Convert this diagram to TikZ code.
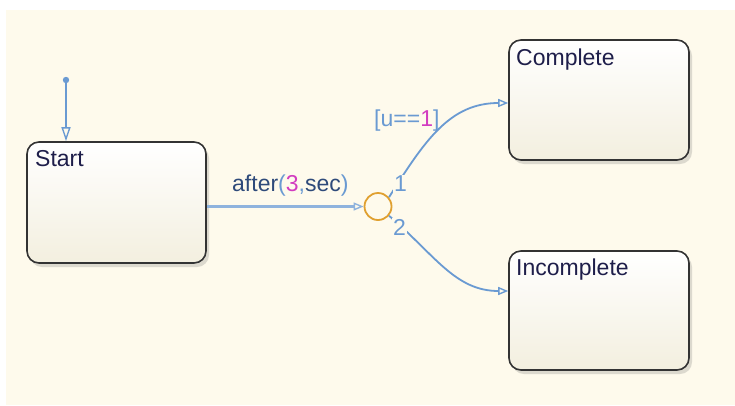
\documentclass[tikz,border=0pt]{standalone}
\usepackage{fontspec}
\setmainfont{Liberation Sans}
\usetikzlibrary{arrows.meta,shadows,calc}
\definecolor{bg}{HTML}{FEFAEC}
\definecolor{trans}{HTML}{6A9AD2}
\definecolor{mag}{HTML}{D23CC0}
\definecolor{statetxt}{HTML}{1E1E4A}
\definecolor{evtxt}{HTML}{2E4A7A}
\definecolor{junccol}{HTML}{E0A030}
\definecolor{boxbot}{HTML}{F3EFDF}
\tikzset{
  statebox/.style={draw=black!80, line width=1.6pt, rounded corners=12pt,
    top color=white, bottom color=boxbot, minimum width=#1, inner sep=0pt,
    drop shadow={shadow xshift=3pt, shadow yshift=-4pt, opacity=0.22, fill=black!60}},
  statelbl/.style={anchor=base west, inner sep=0pt, text=statetxt,
    font=\fontsize{23}{26}\selectfont},
  tlbl/.style={anchor=base west, inner sep=1pt, fill=bg, text=trans,
    font=\fontsize{23}{26}\selectfont},
  tarrow/.style={draw=trans, line width=1.8pt,
    -{Triangle[open,length=10pt,width=8pt,line width=1.4pt]}},
}
\begin{document}
\begin{tikzpicture}[x=1pt,y=-1pt]
\useasboundingbox (0,0) rectangle (735,405);
\fill[bg] (6,10) rectangle (735,405);

% states
\node[statebox=179pt, minimum height=121pt] (start) at (116.5,202.5) {};
\node[statebox=180pt, minimum height=120pt] (complete) at (599,100) {};
\node[statebox=180pt, minimum height=119pt] (incomplete) at (599,310.5) {};

\node[statelbl] (startlbl) at (35,166.5) {Start};
\node[statelbl] (completelbl) at (516,65) {Complete};
\node[statelbl] (incompletelbl) at (516,275) {Incomplete};

% junction
\node[draw=junccol, line width=1.8pt, circle, minimum size=27pt, inner sep=0pt] (junc) at (378,206.5) {};

% default transition
\coordinate (dflt) at (66,80);
\fill[trans] (dflt) circle (3.2pt);
\draw[tarrow, -{Triangle[open,length=14pt,width=9pt,line width=1.4pt]}] (dflt) -- (dflt |- start.north);

% start -> junction
\draw[draw=trans!75, line width=3.4pt, -{Triangle[open,length=10pt,width=8pt,line width=1.4pt]}] (start.east |- junc.west) -- (junc.west);
\node[anchor=base west, inner sep=0pt, text=evtxt, font=\fontsize{23}{26}\selectfont] (evlbl) at (232,191)
  {after{\color{trans}(}{\color{mag}3}{\color{trans},}sec{\color{trans})}};

% junction -> complete / incomplete
\coordinate (cin) at ([yshift=-3pt]complete.west);
\coordinate (iin) at ([yshift=19.5pt]incomplete.west);
\draw[tarrow] (junc.40) .. controls (425,140) and (450,103) .. (cin);
\draw[tarrow] (junc.-40) .. controls (435,255) and (455,291) .. (iin);

\node[tlbl] (one) at (393,191.5) {1};
\node[tlbl] (two) at (392,235) {2};
\node[anchor=base west, inner sep=0pt, text=trans, font=\fontsize{23}{26}\selectfont] (guard) at (374,126) {[u=={\color{mag}1}]};
\end{tikzpicture}
\end{document}
